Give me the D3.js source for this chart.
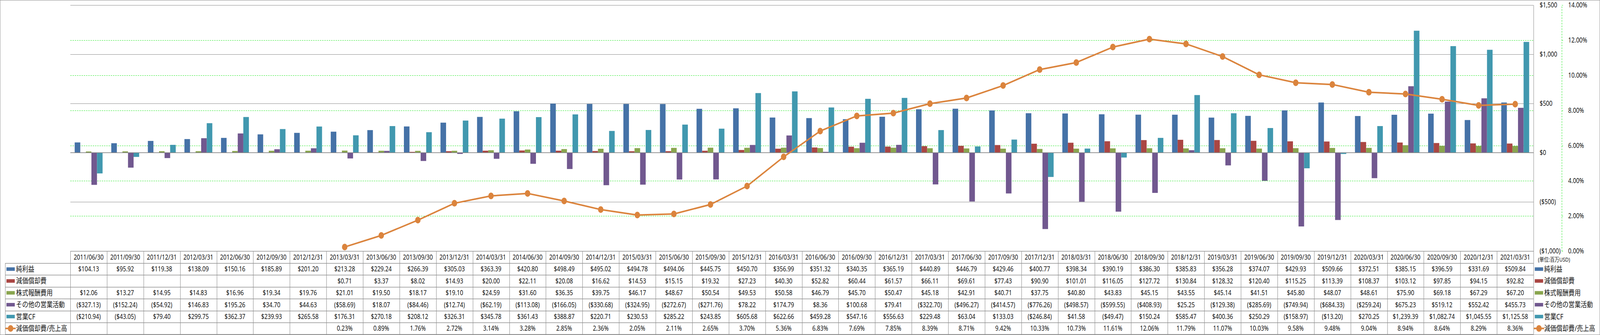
<!DOCTYPE html>
<html>
<head>
<meta charset="utf-8">
<script src="https://cdn.jsdelivr.net/npm/d3@7"></script>
<style>
  html, body { margin: 0; padding: 0; background: #fff; overflow: hidden; }
  svg { display: block; }
  text { font-family: "Noto Sans", "Noto Sans CJK JP", sans-serif; fill: #111; }
</style>
</head>
<body>
<script>
var width = 4981;
var height = 858;

var periods = ["2011/06/30","2011/09/30","2011/12/31","2012/03/31","2012/06/30","2012/09/30","2012/12/31",
  "2013/03/31","2013/06/30","2013/09/30","2013/12/31","2014/03/31","2014/06/30","2014/09/30","2014/12/31",
  "2015/03/31","2015/06/30","2015/09/30","2015/12/31","2016/03/31","2016/06/30","2016/09/30","2016/12/31",
  "2017/03/31","2017/06/30","2017/09/30","2017/12/31","2018/03/31","2018/06/30","2018/09/30","2018/12/31",
  "2019/03/31","2019/06/30","2019/09/30","2019/12/31","2020/03/31","2020/06/30","2020/09/30","2020/12/31","2021/03/31"];

var netIncome = [104.13, 95.92, 119.38, 138.09, 150.16, 185.89, 201.20, 213.28, 229.24, 266.39,
  305.03, 363.39, 420.80, 498.49, 495.02, 494.78, 494.06, 445.75, 450.70, 356.99,
  351.32, 340.35, 365.19, 440.89, 446.79, 429.46, 400.77, 398.34, 390.19, 386.30,
  385.83, 356.28, 374.07, 429.93, 509.66, 372.51, 385.15, 396.59, 331.69, 509.84];

var depreciation = [null, null, null, null, null, null, null, 0.71, 3.37, 8.02,
  14.93, 20.00, 22.11, 20.08, 16.62, 14.53, 15.15, 19.32, 27.23, 40.30,
  52.82, 60.44, 61.57, 66.11, 69.61, 77.43, 90.90, 101.01, 116.05, 127.72,
  130.84, 128.32, 120.40, 115.25, 113.39, 108.37, 103.12, 97.85, 94.15, 92.82];

var stockComp = [12.06, 13.27, 14.95, 14.83, 16.96, 19.34, 19.76, 21.01, 19.50, 18.17,
  19.10, 24.59, 31.60, 36.35, 39.75, 46.17, 48.67, 50.54, 49.53, 50.58,
  46.79, 45.70, 50.47, 45.18, 42.91, 40.71, 37.75, 40.80, 43.83, 45.15,
  43.55, 45.14, 41.51, 45.80, 48.07, 48.61, 75.90, 69.18, 67.29, 67.20];

var otherOps = [-327.13, -152.24, -54.92, 146.83, 195.26, 34.70, 44.63, -58.69, 18.07, -84.46,
  -12.74, -62.19, -113.08, -166.05, -330.68, -324.95, -272.67, -271.76, 78.22, 174.79,
  8.36, 100.68, 79.41, -322.70, -496.27, -414.57, -776.26, -498.57, -599.55, -408.93,
  25.25, -129.38, -285.69, -749.94, -684.33, -259.24, 675.23, 519.12, 552.42, 455.73];

var operatingCF = [-210.94, -43.05, 79.40, 299.75, 362.37, 239.93, 265.58, 176.31, 270.18, 208.12,
  326.31, 345.78, 361.43, 388.87, 220.71, 230.53, 285.22, 243.85, 605.68, 622.66,
  459.28, 547.16, 556.63, 229.48, 63.04, 133.03, -246.84, 41.58, -49.47, 150.24,
  585.47, 400.36, 250.29, -158.97, -13.20, 270.25, 1239.39, 1082.74, 1045.55, 1125.58];

var depRatio = [null, null, null, null, null, null, null, 0.23, 0.89, 1.76,
  2.72, 3.14, 3.28, 2.85, 2.36, 2.05, 2.11, 2.65, 3.70, 5.36,
  6.83, 7.69, 7.85, 8.39, 8.71, 9.42, 10.33, 10.73, 11.61, 12.06,
  11.79, 11.07, 10.03, 9.58, 9.48, 9.04, 8.94, 8.64, 8.29, 8.36];

var dollarTicks = [-1000, -500, 0, 500, 1000, 1500];
var pctTicks = [0, 2, 4, 6, 8, 10, 12, 14];
var unitLabel = "(単位:百万USD)";

var barSeries = [
  {name: "純利益", values: netIncome, color: "#4572A7"},
  {name: "減価償却費", values: depreciation, color: "#AA4643"},
  {name: "株式報酬費用", values: stockComp, color: "#89A54E"},
  {name: "その他の営業活動", values: otherOps, color: "#71588F"},
  {name: "営業CF", values: operatingCF, color: "#4198AF"}
];
var lineSeries = {name: "減価償却費/売上高", values: depRatio, color: "#DB843D"};

// layout
var plotLeft = 219, plotRight = 4774, plotTop = 13, plotBottom = 643;
var gridGray = "#8a8a8a";
var tableGray = "#8f8f8f";

// fit the drawing to whatever the viewport really is
var vw = window.innerWidth || width;
var vh = window.innerHeight || height;
var svg = d3.select("body")
  .append("svg")
  .attr("width", vw)
  .attr("height", vh)
  .attr("viewBox", "0 0 " + width + " " + height)
  .attr("preserveAspectRatio", "none");

// outer frame
svg.append("rect")
  .attr("x", 0.5).attr("y", 0.5)
  .attr("width", width - 1).attr("height", height - 1)
  .attr("fill", "none").attr("stroke", gridGray);

var x = d3.scaleBand().domain(periods).range([plotLeft, plotRight]);
var xSub = d3.scaleBand().domain(d3.range(barSeries.length))
  .range([0, x.bandwidth()]).paddingOuter(0.78).paddingInner(0);
var y = d3.scaleLinear().domain([-1000, 1500]).range([plotBottom, plotTop]);
var yPct = d3.scaleLinear().domain([0, 14]).range([plotBottom, plotTop]);

// gridlines
svg.append("g").selectAll("line")
  .data(dollarTicks)
  .join("line")
  .attr("x1", plotLeft).attr("x2", plotRight)
  .attr("y1", d => Math.round(y(d)) + 0.5).attr("y2", d => Math.round(y(d)) + 0.5)
  .attr("stroke", gridGray).attr("stroke-width", 1.2);

svg.append("g").selectAll("line")
  .data(pctTicks.filter(d => d > 0 && d < 14))
  .join("line")
  .attr("x1", plotLeft).attr("x2", plotRight)
  .attr("y1", d => Math.round(yPct(d)) + 0.5).attr("y2", d => Math.round(yPct(d)) + 0.5)
  .attr("stroke", "#1ee61e").attr("stroke-width", 1.2)
  .attr("stroke-dasharray", "4,3");

// bars
var barsG = svg.append("g");
barSeries.forEach(function(s, si) {
  barsG.append("g")
    .attr("fill", s.color)
    .selectAll("rect")
    .data(s.values.map((v, i) => ({p: periods[i], v: v})).filter(d => d.v != null))
    .join("rect")
    .attr("x", d => x(d.p) + xSub(si))
    .attr("width", xSub.bandwidth())
    .attr("y", d => y(Math.max(0, d.v)))
    .attr("height", d => Math.abs(y(d.v) - y(0)));
});

// zero line
svg.append("line")
  .attr("x1", plotLeft).attr("x2", plotRight)
  .attr("y1", y(0)).attr("y2", y(0))
  .attr("stroke", "#868686").attr("stroke-width", 1.5);

// ratio line
var ratioPts = depRatio.map((v, i) => ({p: periods[i], v: v})).filter(d => d.v != null);
svg.append("path")
  .datum(ratioPts)
  .attr("fill", "none")
  .attr("stroke", lineSeries.color)
  .attr("stroke-width", 4)
  .attr("stroke-linejoin", "round")
  .attr("d", d3.line().x(d => x(d.p) + x.bandwidth() / 2).y(d => yPct(d.v)));
svg.append("g").selectAll("circle")
  .data(ratioPts)
  .join("circle")
  .attr("cx", d => x(d.p) + x.bandwidth() / 2)
  .attr("cy", d => yPct(d.v))
  .attr("r", 8.5)
  .attr("fill", lineSeries.color);

// dollar axis (drawn on the right edge of plot)
var dollarFmt = d3.format("$,");
var dollarAxis = svg.append("g")
  .attr("transform", "translate(" + plotRight + ",0)")
  .call(d3.axisRight(y).tickValues(dollarTicks).tickSize(0).tickPadding(19)
    .tickFormat(d => d < 0 ? "(" + dollarFmt(-d) + ")" : dollarFmt(d)));
dollarAxis.select(".domain").attr("stroke", gridGray).attr("stroke-width", 1.2);
dollarAxis.selectAll("text")
  .style("font-size", "17.5px")
  .style("font-family", "'Noto Sans', sans-serif")
  .attr("fill", d => d < 0 ? "#ff0000" : "#111");

// percent axis
var pctAxis = svg.append("g")
  .attr("transform", "translate(4862,0)")
  .call(d3.axisRight(yPct).tickValues(pctTicks).tickSize(4).tickSizeOuter(0).tickPadding(16)
    .tickFormat(d => d3.format(".2f")(d) + "%"));
pctAxis.select(".domain").attr("stroke", "#1ee61e").attr("stroke-width", 1.2).attr("stroke-dasharray", "4,3");
pctAxis.selectAll(".tick line").attr("stroke", "#1ee61e");
pctAxis.selectAll("text")
  .style("font-size", "17.5px")
  .style("font-family", "'Noto Sans', sans-serif")
  .attr("fill", "#111");

// data table
var rowTop = 643, headH = 31, rowH = 30.4;
var labelLeft = 16;
var rows = barSeries.concat([lineSeries]);
var money = d3.format(",.2f");
function fmtMoney(v) {
  if (v == null) return "";
  return v < 0 ? "($" + money(-v) + ")" : "$" + money(v);
}
function fmtPct(v) { return v == null ? "" : d3.format(".2f")(v) + "%"; }

var table = svg.append("g");
var tableBottom = rowTop + headH + rowH * rows.length;

// horizontal lines
table.append("line")
  .attr("x1", plotLeft).attr("x2", plotRight)
  .attr("y1", rowTop + 0.5).attr("y2", rowTop + 0.5)
  .attr("stroke", tableGray).attr("stroke-width", 1.3);
d3.range(rows.length + 1).forEach(function(r) {
  var yy = Math.round(rowTop + headH + rowH * r) + 0.5;
  table.append("line")
    .attr("x1", labelLeft).attr("x2", plotRight)
    .attr("y1", yy).attr("y2", yy)
    .attr("stroke", tableGray).attr("stroke-width", 1.3);
});
// vertical lines
table.append("line")
  .attr("x1", labelLeft + 0.5).attr("x2", labelLeft + 0.5)
  .attr("y1", rowTop + headH).attr("y2", tableBottom)
  .attr("stroke", tableGray).attr("stroke-width", 1.3);
periods.concat(["end"]).forEach(function(p, i) {
  var xx = Math.round(i < periods.length ? x(p) : plotRight) + 0.5;
  table.append("line")
    .attr("x1", xx).attr("x2", xx)
    .attr("y1", rowTop).attr("y2", tableBottom)
    .attr("stroke", tableGray).attr("stroke-width", 1.3);
});

// header
table.append("g").selectAll("text")
  .data(periods)
  .join("text")
  .attr("x", d => x(d) + x.bandwidth() / 2)
  .attr("y", rowTop + headH / 2)
  .attr("dy", "0.35em")
  .attr("text-anchor", "middle")
  .style("font-size", "17.5px")
  .text(d => d);

// rows
rows.forEach(function(s, r) {
  var cy = rowTop + headH + rowH * r + rowH / 2;
  var isLine = s === lineSeries;
  table.append("g").selectAll("text")
    .data(s.values.map((v, i) => ({p: periods[i], v: v})))
    .join("text")
    .attr("x", d => x(d.p) + x.bandwidth() / 2)
    .attr("y", cy)
    .attr("dy", "0.35em")
    .attr("text-anchor", "middle")
    .style("font-size", "17.5px")
    .text(d => isLine ? fmtPct(d.v) : fmtMoney(d.v));
});

// legend keys (table left side and right side)
function drawLegend(g, keyX, textX) {
  rows.forEach(function(s, r) {
    var cy = rowTop + headH + rowH * r + rowH / 2;
    if (s === lineSeries) {
      g.append("line")
        .attr("x1", keyX - 3).attr("x2", keyX + 29)
        .attr("y1", cy).attr("y2", cy)
        .attr("stroke", s.color).attr("stroke-width", 4);
      g.append("circle")
        .attr("cx", keyX + 13).attr("cy", cy).attr("r", 8.5)
        .attr("fill", s.color);
    } else {
      g.append("rect")
        .attr("x", keyX).attr("y", cy - 4.5)
        .attr("width", 26).attr("height", 9)
        .attr("fill", s.color);
    }
    g.append("text")
      .attr("x", textX).attr("y", cy)
      .attr("dy", "0.36em")
      .style("font-size", "19px")
      .text(s.name);
  });
}
drawLegend(svg.append("g"), 20, 50);
drawLegend(svg.append("g"), 4778, 4807);

svg.append("text")
  .attr("x", 4788).attr("y", 665)
  .attr("dy", "0.35em")
  .style("font-size", "14.5px")
  .text(unitLabel);
</script>
</body>
</html>
